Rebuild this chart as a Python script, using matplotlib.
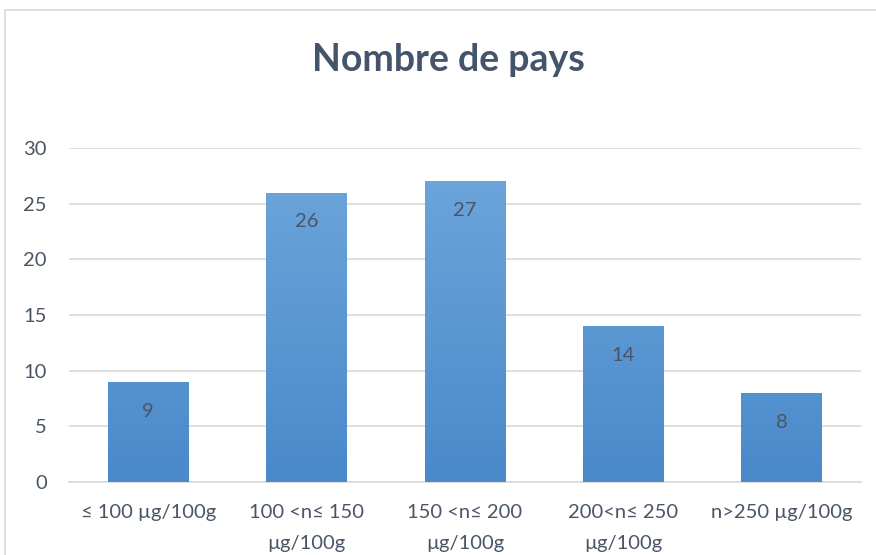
import matplotlib
matplotlib.use("Agg")
import matplotlib.pyplot as plt
import numpy as np
from matplotlib.patches import Rectangle
from matplotlib.colors import LinearSegmentedColormap

categories = ["≤ 100 µg/100g", "100 <n≤ 150\nµg/100g", "150 <n≤ 200\nµg/100g",
              "200<n≤ 250\nµg/100g", "n>250 µg/100g"]
values = [9, 26, 27, 14, 8]
yticks = [0, 5, 10, 15, 20, 25, 30]
title = "Nombre de pays"

plt.rcParams['font.family'] = ['Lato', 'DejaVu Sans']

W, H = 876, 555
fig = plt.figure(figsize=(W/100, H/100), dpi=100)
# chart frame (cropped on right/bottom)
fig.patches.append(Rectangle((5/W, -0.1), 1.2, 1 - 10/H + 0.1, transform=fig.transFigure,
                             fill=False, edgecolor='#D9D9D9', linewidth=1.2))

ax = fig.add_axes([69/W, 1 - 482/H, (861-69)/W, (482-148)/H])
x = np.arange(len(categories))
bw = 0.51
bars = ax.bar(x, values, width=bw, color='none', edgecolor='none', zorder=3)
cmap = LinearSegmentedColormap.from_list('g', ['#4A89CA', '#6FA7DC'])
grad = np.linspace(0, 1, 256).reshape(-1, 1)
for b in bars:
    im = ax.imshow(grad, cmap=cmap, origin='lower', aspect='auto',
                   extent=(b.get_x(), b.get_x()+b.get_width(), 0, 30), zorder=3)
    im.set_clip_path(b)
txtc = '#4A5566'
for xi, v in zip(x, values):
    ax.annotate(str(v), (xi, v), xytext=(0, -15), textcoords='offset points',
                ha='center', va='top', fontsize=14.5, color=txtc, zorder=4)

ax.set_xlim(-0.5, len(categories) - 0.5)
ax.set_ylim(0, 30)
ax.set_yticks(yticks)
ax.set_xticks(x)
ax.set_xticklabels(categories, fontsize=14.5, color=txtc, linespacing=2.0)
ax.tick_params(axis='y', labelsize=14.5, colors=txtc, length=0, pad=16)
ax.tick_params(axis='x', length=0, pad=16)
ax.grid(axis='y', color='#D9D9D9', linewidth=1.2, zorder=0)
for s in ['top', 'right', 'left']:
    ax.spines[s].set_visible(False)
ax.spines['bottom'].set_color('#D9D9D9')
ax.spines['bottom'].set_linewidth(1.2)
ax.set_axisbelow(True)

fig.text(448/W, 1 - 71/H, title, ha='center', va='baseline', fontsize=27,
         fontweight='bold', color='#44546A')

fig.savefig('out.png', dpi=100)
